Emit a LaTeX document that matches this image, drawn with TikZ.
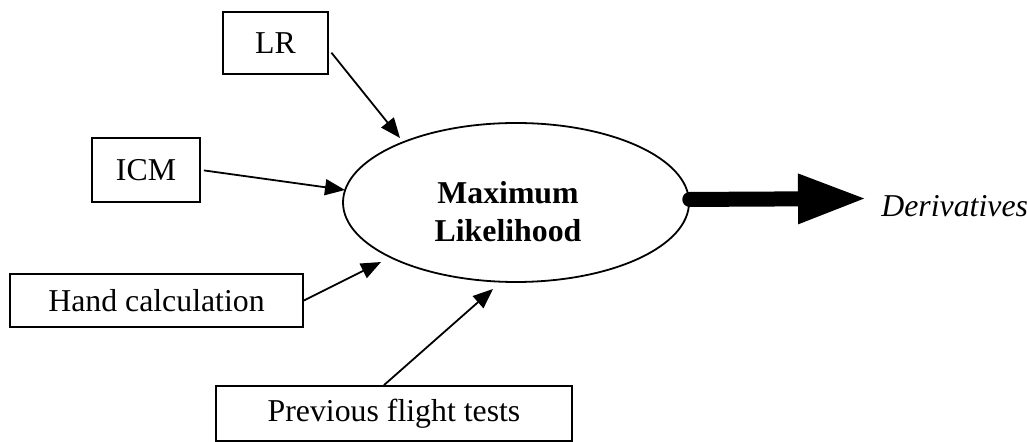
\documentclass[tikz,border=0pt]{standalone}
\usepackage{fontspec}
\setmainfont{Liberation Serif}
\usetikzlibrary{arrows.meta,shapes.geometric}

\tikzset{
  srcbox/.style={draw, line width=0.9pt, inner sep=0pt, font=\fontsize{15.9}{19}\selectfont},
  feed/.style={line width=0.9pt, -{Triangle[length=10pt,width=8pt]}},
  bigarrow/.style={line width=7.5pt, line cap=round, -{Triangle[length=34.5pt,width=23pt]}},
}

\begin{document}
\begin{tikzpicture}[x=0.5pt, y=-0.5pt]
  \useasboundingbox (0,0) rectangle (1027,442);

  % central estimator
  \node[draw, ellipse, line width=0.9pt, minimum width=173pt, minimum height=79.5pt, inner sep=0pt] (ml) at (516,202.5) {};
  \node[font=\fontsize{15.9}{19}\selectfont\bfseries, align=center] (mlt) at (508,212) {Maximum\\Likelihood};

  % input sources
  \node[srcbox, minimum width=52.5pt, minimum height=31pt]   (lr)   at (275.5,43)  {LR};
  \node[srcbox, minimum width=54pt,   minimum height=32pt]   (icm)  at (146,170)   {ICM};
  \node[srcbox, minimum width=146.5pt,minimum height=26.5pt] (hand) at (156.5,300.5) {Hand calculation};
  \node[srcbox, minimum width=178pt,  minimum height=27.5pt] (prev) at (394,413.5) {Previous flight tests};

  % arrow tips near the ellipse
  \coordinate (t1) at (400,138);
  \coordinate (t2) at (345,190);
  \coordinate (t3) at (381,262);
  \coordinate (t4) at (493,289);
  \coordinate (out) at (867,198.5);

  \draw[feed, shorten <=2pt] (lr.-7) -- (t1);
  \draw[feed, shorten <=1.5pt] (icm.east) -- (t2);
  \draw[feed] (hand.east) -- (t3);
  \draw[feed] ([xshift=-5pt]prev.north) -- (t4);

  % output
  \draw[bigarrow] (ml.1.3) -- (out);
  \node[anchor=base west, inner sep=0pt, font=\fontsize{15.9}{19}\selectfont\itshape] (der) at (881,217) {Derivatives};
\end{tikzpicture}
\end{document}
